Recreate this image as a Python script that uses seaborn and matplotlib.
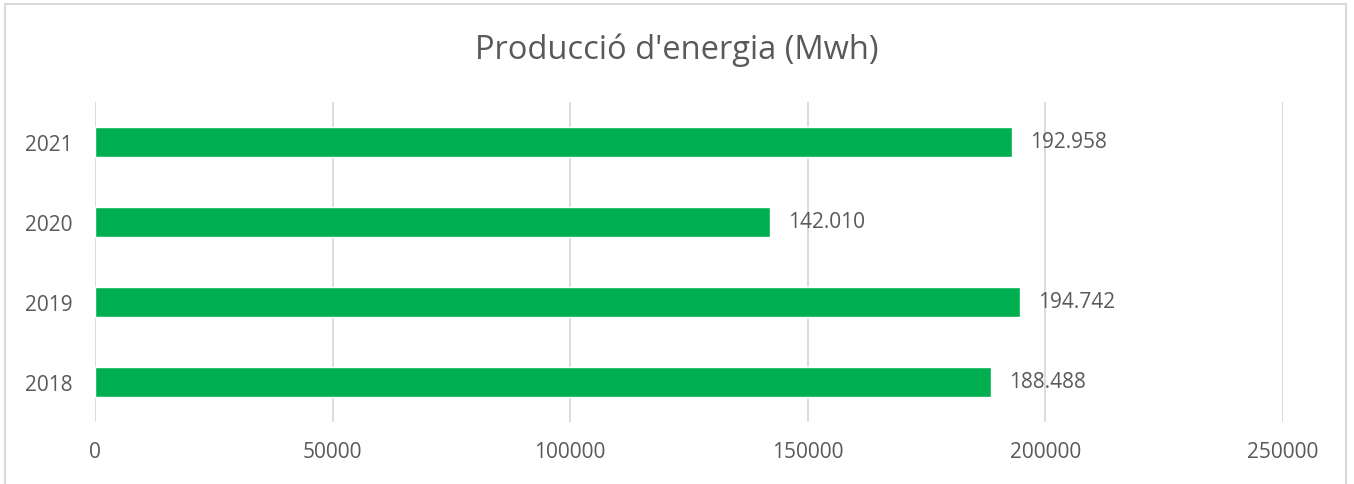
import numpy as np
import pandas as pd
import seaborn as sns
import matplotlib.pyplot as plt
from matplotlib.patches import Rectangle

# Chart data
years = ["2021", "2020", "2019", "2018"]
production = [192958, 142010, 194742, 188488]
x_ticks = [0, 50000, 100000, 150000, 200000, 250000]

df = pd.DataFrame({"year": years, "mwh": production})

sns.set_theme(style="white")
plt.rcParams['font.family'] = ['Open Sans', 'DejaVu Sans']
text_color = "#595959"

fig = plt.figure(figsize=(13.54, 4.85), dpi=100)
ax = fig.add_axes([95 / 1354, 62 / 485, 1188 / 1354, 320 / 485])

sns.barplot(data=df, x="mwh", y="year", order=years, color="#00B050",
            width=0.375, saturation=1, ax=ax)

ax.set_xlim(0, 250000)
ax.set_ylim(3.5, -0.5)
ax.set_xticks(x_ticks)
ax.set_xticklabels([str(t) for t in x_ticks])
ax.grid(axis="x", color="#D9D9D9", linewidth=1.3)
ax.set_axisbelow(True)
for s in ax.spines.values():
    s.set_visible(False)
ax.tick_params(axis="both", length=0, labelsize=15, colors=text_color)
ax.tick_params(axis="x", pad=14)
ax.tick_params(axis="y", pad=16)
ax.set_xlabel("")
ax.set_ylabel("")

# value labels, dot as thousands separator
for i, v in enumerate(production):
    ax.text(v + 3800, i, f"{v:,}".replace(",", "."), va="center", ha="left",
            fontsize=15, color=text_color)

fig.text(0.5, 1 - 50 / 485, "Producció d'energia (Mwh)", ha="center", va="center",
         fontsize=23.5, color=text_color)

# chart outer border
fig.patches.append(Rectangle((5 / 1354, -0.1), 1341 / 1354, 1.1 - 5 / 485,
                             transform=fig.transFigure, fill=False,
                             edgecolor="#D9D9D9", linewidth=1.5))

fig.savefig("out.png", dpi=100, facecolor="white")
